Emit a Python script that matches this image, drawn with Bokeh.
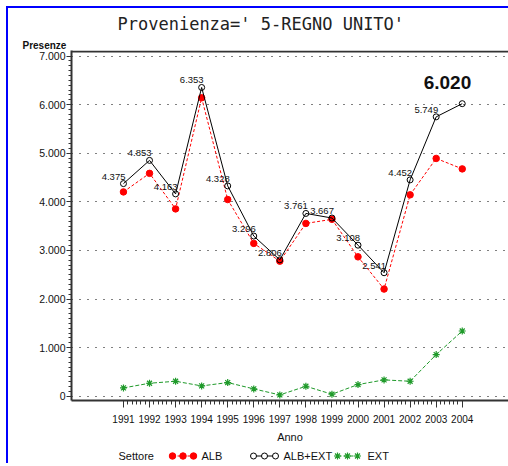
from bokeh.plotting import figure
from bokeh.models import (Range1d, FixedTicker, CustomJSTickFormatter, Label,
                          LabelSet, ColumnDataSource, Span, Title)
from bokeh.layouts import column
from bokeh.embed import file_html
from bokeh.resources import INLINE
from bokeh.core.properties import value

# ---------------- data ----------------
years = [1991, 1992, 1993, 1994, 1995, 1996, 1997, 1998, 1999, 2000, 2001, 2002, 2003, 2004]
alb_ext = [4375, 4853, 4163, 6353, 4328, 3296, 2806, 3761, 3667, 3108, 2541, 4452, 5749, 6020]
alb = [4204, 4586, 3855, 6141, 4047, 3145, 2779, 3556, 3640, 2868, 2205, 4144, 4893, 4678]
ext = [171, 267, 308, 212, 281, 151, 27, 205, 41, 240, 336, 308, 856, 1342]
y_ticks = [0, 1000, 2000, 3000, 4000, 5000, 6000, 7000]
title_text = "Provenienza=' 5-REGNO UNITO'"
y_title = "Presenze"
x_title = "Anno"
legend_title = "Settore"
series_names = ["ALB", "ALB+EXT", "EXT"]

FONT = "'Liberation Sans', Arial, sans-serif"
RED = "#ff0000"
GREEN = "#1f9a2a"
AX = "#333333"
BLUE = "#0000ff"
TXT = "#111111"


def it_fmt(v):
    return f"{v:,}".replace(",", ".")


p = figure(width=508, height=446, output_backend="svg", toolbar_location=None,
           x_range=Range1d(1989.006, 2005.775), y_range=Range1d(-88, 7114),
           min_border_left=71, min_border_right=0, min_border_top=50,
           min_border_bottom=46)
p.outline_line_color = None
p.background_fill_color = "white"
p.border_fill_color = None

# main title
p.title.text = title_text
p.title.align = "left"
p.title.offset = 46
p.title.text_font = "'DejaVu Sans Mono', monospace"
p.title.text_font_size = "17px"
p.title.text_font_style = "normal"
p.title.text_color = "#222222"
p.title.standoff = 8

# y title above the axis
p.add_layout(Title(text=y_title, align="left", offset=-49, standoff=0,
                   text_font=FONT, text_font_size="10px", text_font_style="bold",
                   text_color=TXT), "above")

# x axis (below)
xminor = [y + k / 6 for y in years[:-1] for k in range(1, 6)]
xa = p.below[0]
xa.ticker = FixedTicker(ticks=years, minor_ticks=xminor)
xa.axis_line_color = AX
xa.axis_line_width = 2
xa.major_tick_line_color = AX
xa.minor_tick_line_color = AX
xa.major_tick_out = 7
xa.major_tick_in = 0
xa.minor_tick_out = 4
xa.minor_tick_in = 0
xa.major_label_standoff = 7
xa.major_label_text_font = FONT
xa.major_label_text_font_size = "10px"
xa.major_label_text_color = TXT
xa.axis_label = x_title
xa.axis_label_text_font = FONT
xa.axis_label_text_font_size = "11px"
xa.axis_label_text_font_style = "normal"
xa.axis_label_text_color = TXT
xa.axis_label_standoff = 5

# y axis (left)
ya = p.left[0]
ya.ticker = FixedTicker(ticks=y_ticks, minor_ticks=list(range(0, 7001, 100)))
ya.formatter = CustomJSTickFormatter(code="""
const s = Math.round(tick).toString();
return s.replace(/\\B(?=(\\d{3})+(?!\\d))/g, ".");
""")
ya.axis_line_color = AX
ya.axis_line_width = 2
ya.major_tick_line_color = AX
ya.minor_tick_line_color = AX
ya.major_tick_out = 5
ya.major_tick_in = 0
ya.minor_tick_out = 3
ya.minor_tick_in = 0
ya.major_label_standoff = 1
ya.major_label_text_font = FONT
ya.major_label_text_font_size = "10.5px"
ya.major_label_text_color = TXT

# top frame line
p.add_layout(Span(location=7093, dimension="width", line_color=AX, line_width=2))

p.xgrid.visible = False
p.ygrid.grid_line_color = "#000000"
p.ygrid.grid_line_dash = "1 7"
p.ygrid.grid_line_width = 1

# series
p.line(years, alb, line_color=RED, line_dash="3 2", line_width=1)
p.scatter(years, alb, marker="circle", size=6.5, fill_color=RED, line_color=RED)
p.line(years, alb_ext, line_color="black", line_width=1)
p.scatter(years, alb_ext, marker="circle", size=6, fill_color=None, line_color="black")
p.line(years, ext, line_color=GREEN, line_dash="4 2", line_width=1)
p.scatter(years, ext, marker="asterisk", size=7, line_color=GREEN, line_width=1.2)

# value labels
src = ColumnDataSource(dict(x=years[:-1], y=alb_ext[:-1],
                            t=[it_fmt(v) for v in alb_ext[:-1]]))
p.add_layout(LabelSet(x="x", y="y", text="t", source=src, text_align="right",
                      text_baseline="alphabetic", x_offset=2, y_offset=4,
                      text_font=value(FONT), text_font_size="9.5px",
                      text_color=TXT))
p.add_layout(Label(x=years[-1], y=alb_ext[-1], text=it_fmt(alb_ext[-1]),
                   text_align="right", text_baseline="alphabetic",
                   x_offset=9, y_offset=21, text_font=FONT,
                   text_font_size="19px", text_font_style="bold",
                   text_color=TXT))

# ---------------- legend strip (frame aligned with main frame: page x 71..508) ----
lg = figure(width=508, height=17, output_backend="svg", toolbar_location=None,
            x_range=Range1d(71, 508), y_range=Range1d(463, 446),
            x_axis_location=None, y_axis_location=None,
            min_border_left=71, min_border_right=0, min_border_top=0,
            min_border_bottom=0)
lg.grid.visible = False
lg.outline_line_color = None
lg.border_fill_color = None
lg.background_fill_color = None
LY = 455.5
LFS = "11px"
lg.text(x=[118], y=[LY], text=[legend_title], text_font=value(FONT),
        text_font_size=LFS, text_baseline="middle", text_align="left",
        text_color=TXT)
# ALB
lg.line([172, 193], [LY, LY], line_color=RED, line_dash="3 2")
lg.scatter([172, 182.5, 193], [LY] * 3, marker="circle", size=6.5, color=RED)
lg.text(x=[201], y=[LY], text=[series_names[0]], text_font=value(FONT),
        text_font_size=LFS, text_baseline="middle", text_color=TXT)
# ALB+EXT
lg.line([253, 275], [LY, LY], line_color="black")
lg.scatter([253, 264, 275], [LY] * 3, marker="circle", size=6, fill_color="white",
           line_color="black")
lg.text(x=[283], y=[LY], text=[series_names[1]], text_font=value(FONT),
        text_font_size=LFS, text_baseline="middle", text_color=TXT)
# EXT
lg.line([337, 357], [LY, LY], line_color=GREEN, line_dash="4 2")
lg.scatter([337, 347, 357], [LY] * 3, marker="asterisk", size=7, line_color=GREEN,
           line_width=1.2)
lg.text(x=[367], y=[LY], text=[series_names[2]], text_font=value(FONT),
        text_font_size=LFS, text_baseline="middle", text_color=TXT)

layout = column(p, lg, spacing=0,
                styles={"box-shadow": f"inset 6px 6px 0 0 white, inset 8px 8px 0 0 {BLUE}",
                        "background-color": "white"})

open("out.html", "w").write(file_html(layout, INLINE))
